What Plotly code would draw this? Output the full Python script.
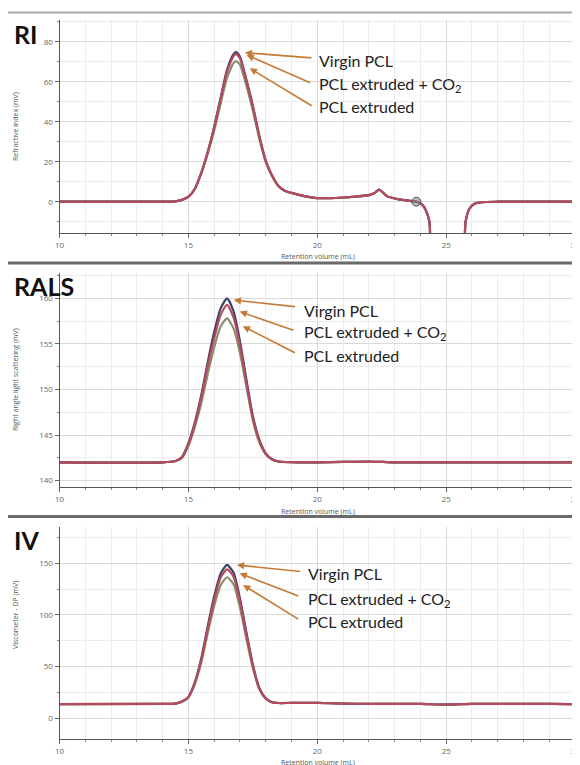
import plotly.graph_objects as go

# ---------------- data ----------------
series_names = ["Virgin PCL", "PCL extruded + CO2", "PCL extruded"]

ri_x = [10, 14, 14.5, 14.75, 15, 15.25, 15.5, 15.75, 16, 16.25, 16.5, 16.75, 16.85, 17, 17.25, 17.5,
        17.75, 18, 18.25, 18.5, 18.75, 19, 19.5, 20, 20.5, 21, 21.5, 22, 22.2, 22.4, 22.55, 22.7,
        23, 23.3, 23.6, 23.85, 24.05, 24.2, 24.35, 24.5, 25.6, 25.75, 25.9, 26.1, 26.4, 27, 28, 29, 30.5]
ri_virgin = [0, 0, 0.2, 0.9, 2.5, 6.5, 14.5, 25, 37.5, 52, 66, 73.8, 74.8, 72.5, 61, 48,
             33, 20.5, 13, 7.8, 5.4, 4.4, 2.8, 1.8, 1.8, 2.1, 2.6, 3.3, 4.2, 6, 4.5, 2.8,
             1.6, 0.9, 0.4, 0, -1.2, -4, -10, -30, -30, -10, -3.5, -1, -0.2, 0, 0, 0, 0]
ri_co2 = [0, 0, 0.2, 0.9, 2.5, 6.5, 14.4, 24.8, 37.2, 51.5, 65.2, 72.8, 73.8, 71.6, 60.3, 47.5,
          32.8, 20.4, 13, 7.8, 5.4, 4.4, 2.8, 1.8, 1.8, 2.1, 2.6, 3.3, 4.2, 6, 4.5, 2.8,
          1.6, 0.9, 0.4, 0, -1.2, -4, -10, -30, -30, -10, -3.5, -1, -0.2, 0, 0, 0, 0]
ri_extruded = [0, 0, 0.2, 0.9, 2.4, 6.3, 14, 24, 35.5, 49, 62, 69.3, 70.3, 68.5, 58, 45.5,
               31.5, 19.8, 12.6, 7.6, 5.3, 4.4, 2.8, 1.8, 1.8, 2.1, 2.6, 3.3, 4.2, 6, 4.5, 2.8,
               1.6, 0.9, 0.4, 0, -1.2, -4, -10, -30, -30, -10, -3.5, -1, -0.2, 0, 0, 0, 0]
ri_marker_x = [23.84]
ri_marker_y = [0]

rals_x = [10, 14, 14.5, 14.75, 15, 15.25, 15.5, 15.75, 16, 16.25, 16.5, 16.75, 17, 17.25, 17.5,
          17.75, 18, 18.25, 18.5, 19, 20, 21, 22, 23, 24, 25, 26, 27, 28, 29, 30.5]
rals_virgin = [142, 142, 142.15, 142.6, 144.1, 146.4, 149.4, 153, 156.3, 158.9, 160, 158.6, 155.3,
               151.1, 147.1, 144.5, 143.0, 142.35, 142.1, 142.02, 142, 142.05, 142.1, 142, 142,
               142, 142, 142, 142, 142, 142]
rals_co2 = [142, 142, 142.15, 142.6, 144.0, 146.2, 149.1, 152.6, 155.6, 158.2, 159.3, 157.9, 154.8,
            150.7, 146.9, 144.4, 142.95, 142.35, 142.1, 142.02, 142, 142.05, 142.1, 142, 142,
            142, 142, 142, 142, 142, 142]
rals_extruded = [142, 142, 142.15, 142.5, 143.8, 145.9, 148.5, 151.7, 154.6, 156.9, 157.8, 156.7,
                 154.0, 150.3, 146.6, 144.2, 142.9, 142.3, 142.1, 142.02, 142, 142.05, 142.1, 142,
                 142, 142, 142, 142, 142, 142, 142]

iv_x = [10, 14, 14.5, 14.75, 15, 15.25, 15.5, 15.75, 16, 16.25, 16.5, 16.75, 17, 17.25, 17.5,
        17.75, 18, 18.25, 18.5, 19, 20, 21, 22, 23, 24, 25, 26, 27, 28, 29, 30, 30.5]
iv_virgin = [13.8, 13.9, 14.3, 16.2, 20.8, 35, 58, 89, 118, 140, 148.4, 141, 116, 83, 52,
             29.5, 19.5, 15.5, 14.8, 14.9, 14.9, 14.2, 14.0, 14.0, 13.9, 13.2, 14.0, 14.0, 14.0,
             13.9, 13.6, 12.8]
iv_co2 = [13.8, 13.9, 14.3, 16.2, 20.6, 34.3, 56.6, 86.7, 114.8, 136.1, 144.2, 137.1, 112.9, 80.9,
          50.8, 29.0, 19.3, 15.5, 14.8, 14.9, 14.9, 14.2, 14.0, 14.0, 13.9, 13.2, 14.0, 14.0,
          14.0, 13.9, 13.6, 12.8]
iv_extruded = [13.8, 13.9, 14.3, 16.1, 20.2, 33.1, 54.1, 82.3, 108.7, 128.8, 136.5, 129.7, 106.9,
               76.8, 48.6, 28.1, 18.9, 15.4, 14.8, 14.9, 14.9, 14.2, 14.0, 14.0, 13.9, 13.2, 14.0,
               14.0, 14.0, 13.9, 13.6, 12.8]

panel_labels = ["RI", "RALS", "IV"]
y_titles = ["Refractive index (mV)", "Right angle light scattering (mV)", "Viscometer - DP (mV)"]
x_title = "Retention volume (mL)"
annotation_texts = ["Virgin PCL", "PCL extruded + CO<sub>2</sub>", "PCL extruded"]

# ---------------- styling ----------------
OFF = 8                      # page body margin of the browser
W, H = 580, 765              # figure size (page is offset by the body margin)
col_virgin = "#3d4366"
col_co2 = "#b84a5e"
col_extruded = "#8a8f6e"
arrow_col = "#c47a34"

def px(p):
    return max(0.0, (p - OFF) / W)

def py(p):
    return 1 - (p - OFF) / H

fig = go.Figure()

panels = [
    ("x", "y", ri_x, [ri_extruded, ri_virgin, ri_co2]),
    ("x2", "y2", rals_x, [rals_extruded, rals_virgin, rals_co2]),
    ("x3", "y3", iv_x, [iv_extruded, iv_virgin, iv_co2]),
]
cols = [col_extruded, col_virgin, col_co2]
names = [series_names[2], series_names[0], series_names[1]]
for xa, ya, xs, ys_list in panels:
    for ys, c, n in zip(ys_list, cols, names):
        fig.add_trace(go.Scatter(x=xs, y=ys, xaxis=xa, yaxis=ya, mode="lines", name=n,
                                 line=dict(color=c, width=2.2, shape="spline", smoothing=0.6),
                                 showlegend=False, hoverinfo="skip"))

fig.add_trace(go.Scatter(x=ri_marker_x, y=ri_marker_y, xaxis="x", yaxis="y", mode="markers",
                         marker=dict(size=9, color="rgba(120,130,140,0.55)",
                                     line=dict(color="#555", width=1)),
                         showlegend=False, hoverinfo="skip"))

x_dom = [px(59.5), px(588)]
x_rng = [10, 30.5]
y_doms = [[py(233.3), py(20)], [py(487), py(273.3)], [py(739.3), py(526.7)]]
y_rngs = [[-15.8, 90.85], [139.3, 162.75], [-20.3, 185.4]]
y_dticks = [20, 5, 50]
y_minor = [10, 2.5, 25]

tickfont = dict(family="Open Sans, DejaVu Sans", size=8, color="#666")
axis_common = dict(showline=True, linecolor="#555", linewidth=1, ticks="outside", ticklen=4,
                   tickcolor="#666", showgrid=True, gridcolor="#d9d9d9", gridwidth=1,
                   zeroline=False, tickfont=tickfont, automargin=False,
                   ticklabeloverflow="allow")

layout = dict(width=W, height=H, margin=dict(l=0, r=0, t=0, b=0, autoexpand=False),
              paper_bgcolor="white", plot_bgcolor="white", showlegend=False)
for i in range(3):
    sx = "xaxis" if i == 0 else f"xaxis{i+1}"
    sy = "yaxis" if i == 0 else f"yaxis{i+1}"
    ya = "y" if i == 0 else f"y{i+1}"
    xa = "x" if i == 0 else f"x{i+1}"
    layout[sx] = dict(domain=x_dom, range=x_rng, anchor=ya, tick0=10, dtick=5,
                      minor=dict(dtick=1, ticks="outside", ticklen=2, tickcolor="#888",
                                 showgrid=True, gridcolor="#ececec"),
                      **axis_common)
    layout[sy] = dict(domain=y_doms[i], range=y_rngs[i], anchor=xa, dtick=y_dticks[i],
                      minor=dict(dtick=y_minor[i], ticks="outside", ticklen=2, tickcolor="#888",
                                 showgrid=True, gridcolor="#ececec"),
                      **axis_common)
fig.update_layout(**layout)

# separators
for yp, c, w in [(12.5, "#a8a8a8", 2), (263, "#6a6a6a", 3), (516.5, "#6a6a6a", 3)]:
    fig.add_shape(type="line", xref="paper", yref="paper", x0=0, x1=1, y0=py(yp), y1=py(yp),
                  line=dict(color=c, width=w))

# panel labels
for lab, cy in zip(panel_labels, [34, 286, 540]):
    fig.add_annotation(text=f"<b>{lab}</b>", xref="paper", yref="paper", x=px(12), y=py(cy),
                       xanchor="left", yanchor="middle", showarrow=False,
                       font=dict(family="Lato, Open Sans", size=25, color="#111"))

# y-axis titles
for t, cy in zip(y_titles, [127, 380, 615]):
    fig.add_annotation(text=t, xref="paper", yref="paper", x=px(15), y=py(cy), textangle=-90,
                       xanchor="center", yanchor="middle", showarrow=False,
                       font=dict(family="Open Sans, DejaVu Sans", size=7, color="#555"))

# x-axis titles
for cy in [257, 511, 762]:
    fig.add_annotation(text=x_title, xref="paper", yref="paper", x=px(318), y=py(cy),
                       xanchor="center", yanchor="middle", showarrow=False,
                       font=dict(family="Open Sans, DejaVu Sans", size=7, color="#555"))

# arrows & labels: (head x, head y, tail x, tail y, text y)
arrow_sets = [
    ("x", "y", 19.98, [(17.19, 74.5, 19.83, 71.85, 70.35),
                        (17.26, 73.35, 19.78, 59.2, 58.35),
                        (17.38, 66.7, 19.84, 47.5, 47.35)]),
    ("x2", "y2", 19.39, [(16.76, 159.81, 19.19, 159.08, 158.71),
                          (16.99, 158.55, 19.13, 156.43, 156.21),
                          (17.11, 156.95, 19.19, 153.95, 153.68)]),
    ("x3", "y3", 19.55, [(16.88, 148.4, 19.39, 141.9, 140.3),
                          (16.99, 140.3, 19.32, 117.7, 114.5),
                          (17.12, 129.0, 19.32, 95.1, 93.5)]),
]
for xa, ya, tx, items in arrow_sets:
    for (hx, hy, ax_, ay_, ty), txt in zip(items, annotation_texts):
        fig.add_annotation(x=hx, y=hy, ax=ax_, ay=ay_, xref=xa, yref=ya, axref=xa, ayref=ya,
                           text="", showarrow=True, arrowhead=2, arrowsize=0.9, arrowwidth=1.6,
                           arrowcolor=arrow_col)
        fig.add_annotation(x=tx, y=ty, xref=xa, yref=ya, text=txt, showarrow=False,
                           xanchor="left", yanchor="middle",
                           font=dict(family="Lato, Open Sans", size=16, color="#222"))

fig.write_html("out.html")
